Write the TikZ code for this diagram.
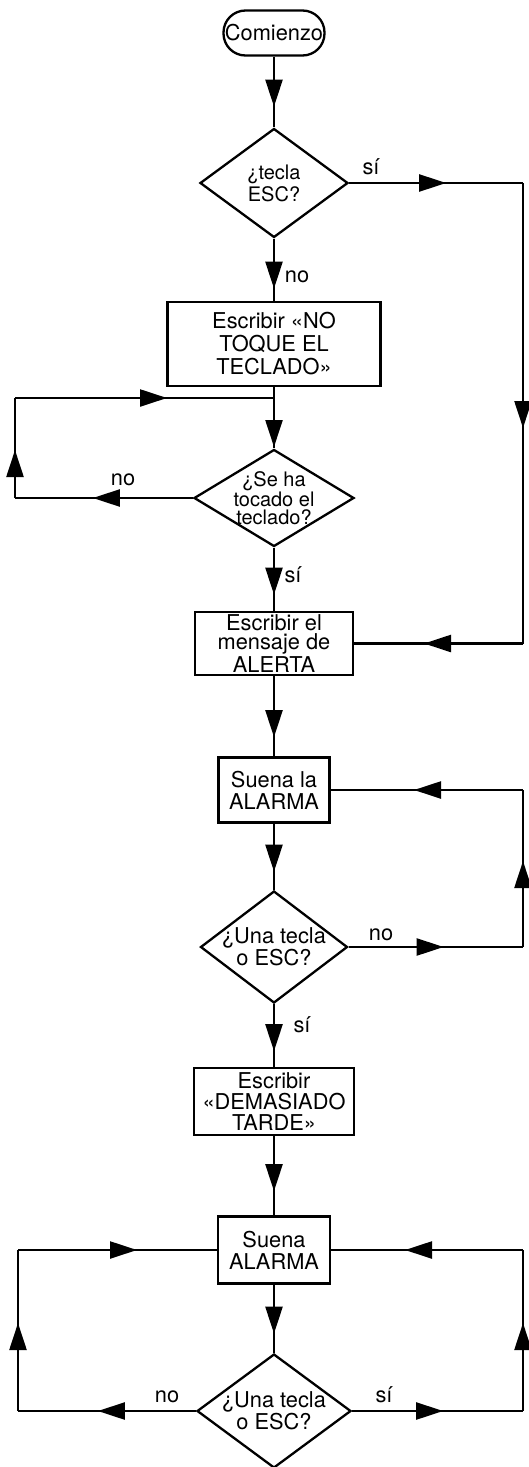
\documentclass[tikz,border=0pt]{standalone}
\usepackage{fontspec}
\setmainfont{TeX Gyre Heros}
\usetikzlibrary{arrows.meta}
\usetikzlibrary{decorations.markings}
\usetikzlibrary{shapes.geometric}
\tikzset{flecha/.style = {decoration={markings,
                                      mark=at position #1 with {\arrow{Triangle[length=13.5pt, width=8.5pt]}}},
                          postaction={decorate}}}
\tikzset{caja/.style = {draw, align=center, inner sep=0.5pt, font=\fontsize{10.9}{11}\selectfont}}
\tikzset{pregunta/.style = {diamond, draw, align=center, inner sep=-2pt, font=\fontsize{10.9}{11.2}\selectfont}}
\tikzset{etiqueta/.style = {font=\fontsize{10.9}{11}\selectfont, inner sep=0pt}}

\begin{document}
\begin{tikzpicture}[x=0.5pt, y=-0.5pt, line width=1.15pt]
      \useasboundingbox (0, 0) rectangle (529, 1467);

      \node [caja, rounded corners=11pt, minimum width=50.5pt, minimum height=22.5pt] (start) at (274, 33) {Comienzo};
      \node [pregunta, aspect=1.36, minimum width=74pt, minimum height=54.5pt, font=\fontsize{10}{11}\selectfont] (esc) at (274, 183) {¿tecla\\ESC?};
      \node [caja, minimum width=106.5pt, minimum height=42pt, font=\fontsize{10.9}{11.5}\selectfont] (warn) at (274, 344) {Escribir «NO\\TOQUE EL\\TECLADO»};
      \node [pregunta, aspect=1.65, minimum width=80pt, minimum height=48.5pt, font=\fontsize{10}{8.8}\selectfont] (touched) at (274, 498) {¿Se ha\\tocado el\\teclado?};
      \node [caja, minimum width=79pt, minimum height=31.5pt, font=\fontsize{10.9}{9.8}\selectfont] (alert) at (274, 643.5) {Escribir el\\mensaje de\\ALERTA};
      \node [caja, minimum width=55.5pt, minimum height=32.5pt] (alarm) at (274, 790) {Suena la\\ALARMA};
      \node [pregunta, aspect=1.31, minimum width=73.5pt, minimum height=56pt] (key) at (274, 947) {¿Una tecla\\o ESC?};
      \node [caja, minimum width=80pt, minimum height=33.5pt, font=\fontsize{10.9}{10.5}\selectfont] (late) at (274, 1101.5) {Escribir\\«DEMASIADO\\TARDE»};
      \node [caja, minimum width=56pt, minimum height=33.5pt] (alarmb) at (274, 1250) {Suena\\ALARMA};
      \node [pregunta, aspect=1.35, minimum width=77pt, minimum height=57pt] (keyb) at (274, 1411) {¿Una tecla\\o ESC?};

      % labels
      \node [etiqueta] (si1) at (371, 167) {sí};
      \node [etiqueta] (no1) at (297, 277) {no};
      \node [etiqueta] (no2) at (123, 480) {no};
      \node [etiqueta] (si2) at (293, 575) {sí};
      \node [etiqueta] (no3) at (381, 935) {no};
      \node [etiqueta] (si3) at (302, 1025) {sí};
      \node [etiqueta] (no4) at (167, 1397) {no};
      \node [etiqueta] (si4) at (384, 1395) {sí};

      % corners of the loops
      \coordinate (escR) at (523, 183);
      \coordinate (alertR) at (523, 643.5);
      \coordinate (join) at (274, 398);
      \coordinate (loopT) at (15, 398);
      \coordinate (loopL) at (15, 498);
      \coordinate (alarmR) at (523, 790);
      \coordinate (keyR) at (523, 947);
      \coordinate (alarmbL) at (18, 1250);
      \coordinate (keybL) at (18, 1411);
      \coordinate (alarmbR) at (523, 1250);
      \coordinate (keybR) at (523, 1411);

      \draw [flecha=25pt] (start) -- (esc);
      \draw [flecha=25pt] (esc) -- (warn);
      \draw [flecha=48.5pt] (esc.east) -- (escR);
      \draw [flecha=122.5pt] (escR) -- (alertR);
      \draw [flecha=49.5pt] (alertR) -- (alert.east);
      \draw (warn) -- (join);
      \draw [flecha=24.5pt] (join) -- (touched);
      \draw [flecha=50pt] (touched.west) -- (loopL);
      \draw [flecha=24pt] (loopL) -- (loopT);
      \draw [flecha=76pt] (loopT) -- (join);
      \draw [flecha=23.5pt] (touched) -- (alert);
      \draw [flecha=30.5pt] (alert) -- (alarm);
      \draw [flecha=24pt] (alarm) -- (key);
      \draw [flecha=47.5pt] (key.east) -- (keyR);
      \draw [flecha=43pt] (keyR) -- (alarmR);
      \draw [flecha=54.5pt] (alarmR) -- (alarm.east);
      \draw [flecha=23.5pt] (key) -- (late);
      \draw [flecha=27.5pt] (late) -- (alarmb);
      \draw [flecha=24.5pt] (alarmb) -- (keyb);
      \draw [flecha=49pt] (keyb.west) -- (keybL);
      \draw [flecha=44pt] (keybL) -- (alarmbL);
      \draw [flecha=59.5pt] (alarmbL) -- (alarmb.west);
      \draw [flecha=45.5pt] (keyb.east) -- (keybR);
      \draw [flecha=44pt] (keybR) -- (alarmbR);
      \draw [flecha=59pt] (alarmbR) -- (alarmb.east);
\end{tikzpicture}
\end{document}
